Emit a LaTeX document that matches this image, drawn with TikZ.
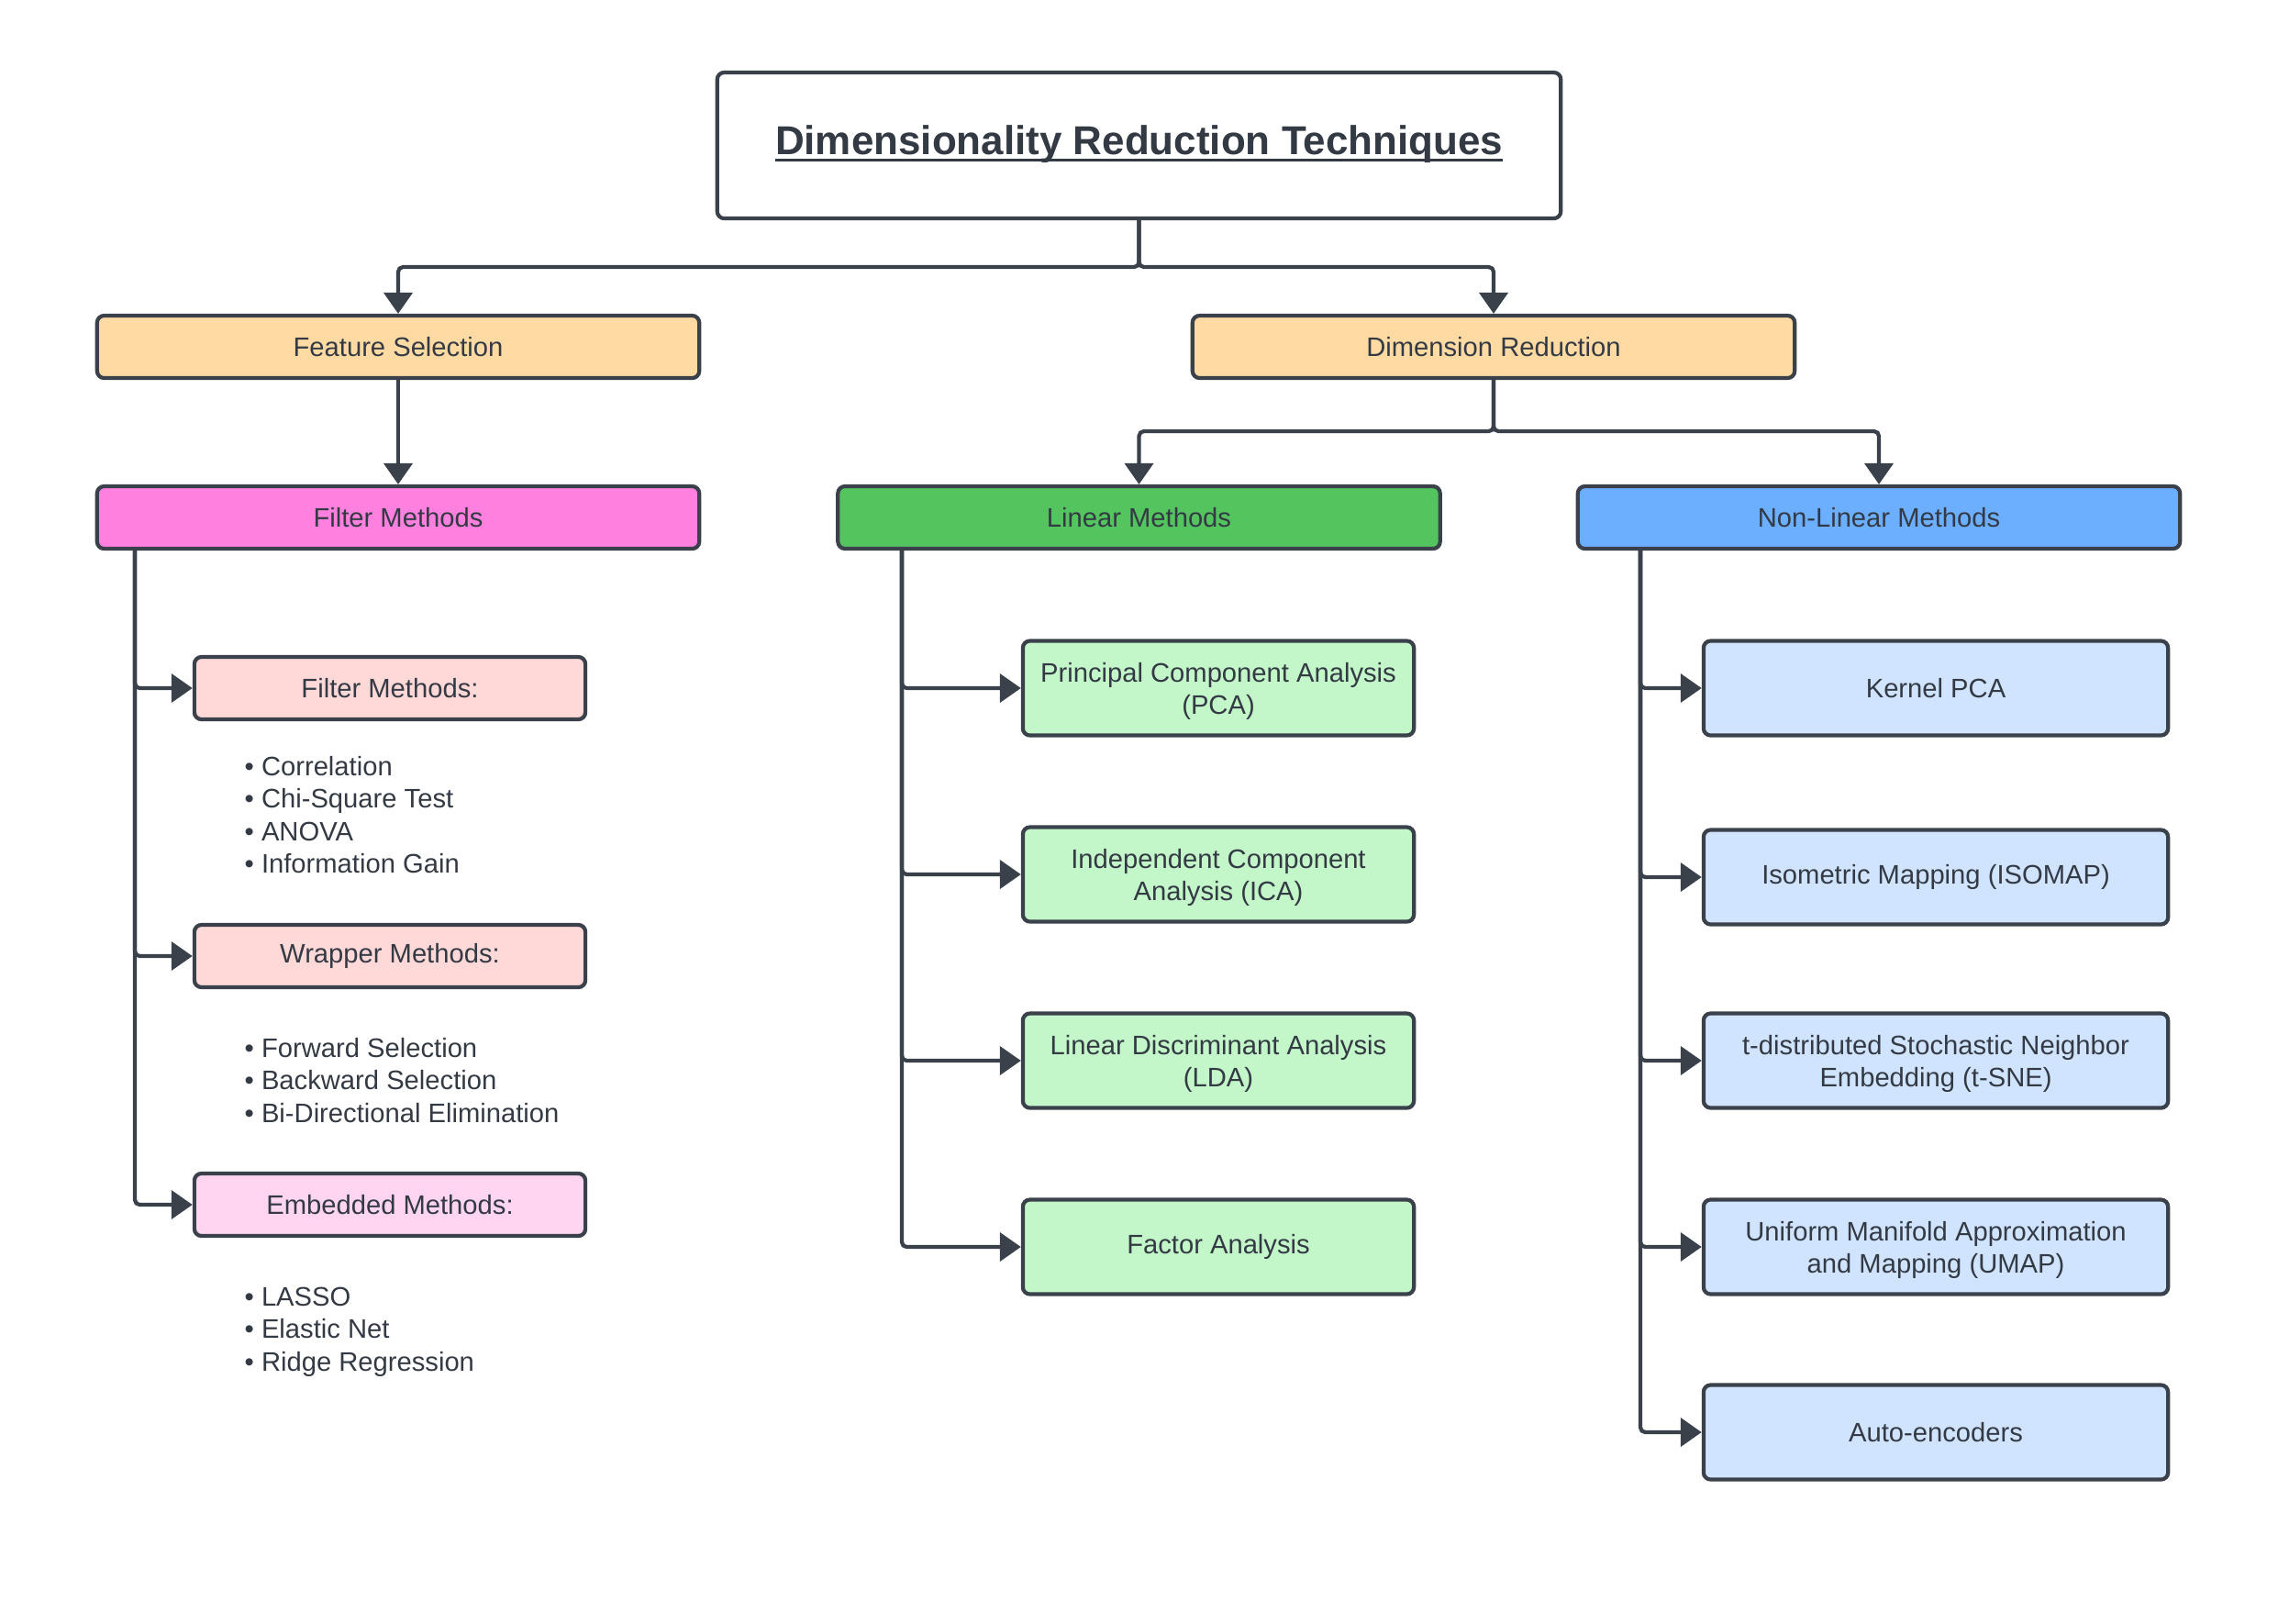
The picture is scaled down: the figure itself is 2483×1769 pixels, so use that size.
\documentclass[tikz,border=0pt]{standalone}
\usepackage{fontspec}
\setmainfont{Liberation Sans}
\usetikzlibrary{arrows.meta}
\definecolor{ink}{HTML}{3A414B}
\definecolor{txt}{HTML}{333A44}
\definecolor{orangef}{HTML}{FFDBA3}
\definecolor{pinkf}{HTML}{FF80DF}
\definecolor{greenf}{HTML}{53C45E}
\definecolor{bluef}{HTML}{6CAEFF}
\definecolor{lpinkf}{HTML}{FFD8D8}
\definecolor{lmagf}{HTML}{FFD5F1}
\definecolor{lgreenf}{HTML}{C3F6C8}
\definecolor{lbluef}{HTML}{D0E4FF}
\newcommand\myul[1]{\setbox0\hbox{#1}\rlap{\rule[-0.17em]{\wd0}{0.07em}}\box0}
\newcommand\tallfirst{\rule{0pt}{8.1pt}}
\begin{document}
\begin{tikzpicture}[x=0.01cm,y=-0.01cm,
  box/.style={draw=ink, line width=1.2pt, rounded corners=2.2pt, inner sep=0pt, align=center,
    font=\fontsize{8.3}{9.9}\selectfont, text=txt},
  wide/.style={box, minimum width=6.56cm, minimum height=0.68cm},
  subbox/.style={box, minimum width=4.26cm, minimum height=0.68cm, fill=lpinkf},
  lin/.style={box, minimum width=4.26cm, minimum height=1.03cm, fill=lgreenf},
  nlin/.style={box, minimum width=5.06cm, minimum height=1.03cm, fill=lbluef},
  item/.style={anchor=base west, inner sep=0pt, font=\fontsize{8.3}{10.1}\selectfont, text=txt},
  conn/.style={draw=ink, line width=1.2pt, rounded corners=1.5pt, -{Triangle[width=0.31cm,length=0.23cm]}}]
\useasboundingbox (0,0) rectangle (2483,1769);

% title
\node[box, minimum width=9.19cm, minimum height=1.59cm] (title) at (1241.5,158.5) {};
\node[inner sep=0pt, font=\fontsize{12.5}{14}\selectfont\bfseries, text=txt] (ttl) at (1241.5,157)
  {\myul{Dimensionality Reduction Techniques}};

% level 1
\node[wide, fill=orangef] (fs) at (434,378) {Feature Selection};
\node[wide, fill=orangef] (dr) at (1628,378) {Dimension Reduction};

% level 2
\node[wide, fill=pinkf] (fm) at (434,564) {Filter Methods};
\node[wide, fill=greenf] (lm) at (1241.5,564) {Linear Methods};
\node[wide, fill=bluef] (nl) at (2048,564) {Non-Linear Methods};

% feature selection sub boxes
\node[subbox] (sf) at (425,750) {Filter Methods:};
\node[subbox] (sw) at (425,1042) {Wrapper Methods:};
\node[subbox, fill=lmagf] (se) at (425,1313) {Embedded Methods:};

\node[item] (f1) at (266,845) {• Correlation};
\node[item] (f2) at (266,880.5) {• Chi-Square Test};
\node[item] (f3) at (266,916) {• ANOVA};
\node[item] (f4) at (266,951.5) {• Information Gain};

\node[item] (w1) at (266,1152) {• Forward Selection};
\node[item] (w2) at (266,1187.5) {• Backward Selection};
\node[item] (w3) at (266,1223) {• Bi-Directional Elimination};

\node[item] (e1) at (266,1423) {• LASSO};
\node[item] (e2) at (266,1458.5) {• Elastic Net};
\node[item] (e3) at (266,1494) {• Ridge Regression};

% linear
\node[lin] (pca) at (1328,750) {\tallfirst Principal Component Analysis\\(PCA)};
\node[lin] (ica) at (1328,953) {\tallfirst Independent Component\\Analysis (ICA)};
\node[lin] (lda) at (1328,1156) {\tallfirst Linear Discriminant Analysis\\(LDA)};
\node[lin] (fa) at (1328,1359) {Factor Analysis};

% non-linear
\node[nlin] (kp) at (2110,750) {Kernel PCA};
\node[nlin] (iso) at (2110,956) {Isometric Mapping (ISOMAP)};
\node[nlin] (tsne) at (2110,1156) {\tallfirst t-distributed Stochastic Neighbor\\Embedding (t-SNE)};
\node[nlin] (umap) at (2110,1359) {\tallfirst Uniform Manifold Approximation\\and Mapping (UMAP)};
\node[nlin] (ae) at (2110,1561) {Auto-encoders};

% connectors
\coordinate (j1) at (1241.5,291);
\draw[conn] (title.south) -- (j1) -| (fs.north);
\draw[conn] (title.south) -- (j1) -| (dr.north);
\draw[conn] (fs.south) -- (fm.north);
\coordinate (j2) at (1628,470);
\draw[conn] (dr.south) -- (j2) -| (lm.north);
\draw[conn] (dr.south) -- (j2) -| (nl.north);

\coordinate (ax1) at (147,0);
\draw[conn] (fm.south -| ax1) |- (sf.west);
\draw[conn] (fm.south -| ax1) |- (sw.west);
\draw[conn] (fm.south -| ax1) |- (se.west);

\coordinate (ax2) at (983,0);
\draw[conn] (lm.south -| ax2) |- (pca.west);
\draw[conn] (lm.south -| ax2) |- (ica.west);
\draw[conn] (lm.south -| ax2) |- (lda.west);
\draw[conn] (lm.south -| ax2) |- (fa.west);

\coordinate (ax3) at (1788,0);
\draw[conn] (nl.south -| ax3) |- (kp.west);
\draw[conn] (nl.south -| ax3) |- (iso.west);
\draw[conn] (nl.south -| ax3) |- (tsne.west);
\draw[conn] (nl.south -| ax3) |- (umap.west);
\draw[conn] (nl.south -| ax3) |- (ae.west);
\end{tikzpicture}
\end{document}
